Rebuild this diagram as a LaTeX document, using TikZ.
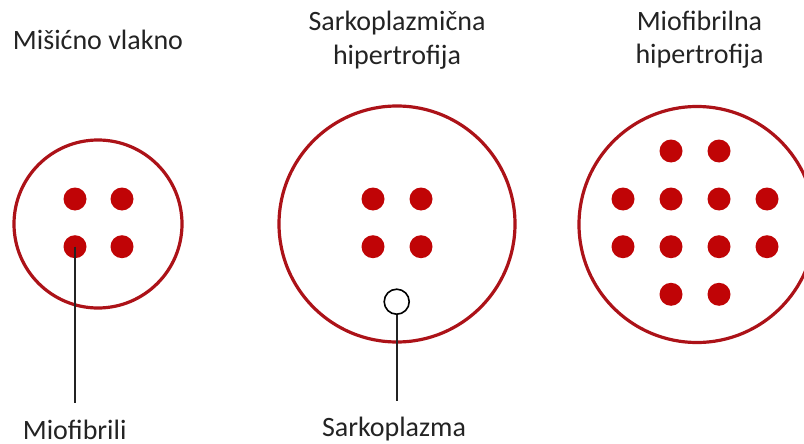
\documentclass[tikz,border=0pt]{standalone}
\usepackage{fontspec}
\setmainfont{Carlito}
\usepackage{xcolor}
\definecolor{fibrered}{RGB}{172, 18, 24}
\definecolor{dotred}{RGB}{192, 4, 6}
\definecolor{inkgray}{RGB}{35, 35, 35}
\usepackage{tikz}
\usetikzlibrary{positioning,calc}

\begin{document}
\begin{tikzpicture}[
  x=1pt, y=-1pt,
  fibre/.style={draw=fibrered, circle, line width=3.2pt, inner sep=0pt, fill=white},
  fibril/.style={fill=dotred, draw=none, circle, inner sep=0pt, minimum size=23pt},
  sarcoplasm/.style={draw=black, fill=white, circle, line width=1.6pt, inner sep=0pt, minimum size=25pt},
  heading/.style={font=\fontsize{28}{33.5}\selectfont, text=inkgray, align=center, anchor=base, inner sep=0pt},
  callout/.style={font=\fontsize{28}{33.5}\selectfont, text=inkgray, anchor=base, inner sep=0pt},
  pointer/.style={draw=inkgray, line width=2.4pt, shorten >=16pt}
]
\useasboundingbox (0,0) rectangle (804,444);

% headings (base = last line)
\node[heading] (hnormal) at (98,50) {Mišićno vlakno};
\node[heading] (hsarco) at (397,64.5) {Sarkoplazmična\\hipertrofija};
\node[heading] (hmyo) at (699.5,64) {Miofibrilna\\hipertrofija};

% muscle fibres
\node[fibre, minimum size=168pt] (normal) at (98,224) {};
\node[fibre, minimum size=236pt] (sarco) at (397,224) {};
\node[fibre, minimum size=236pt] (myo) at (697,224.5) {};

% normal fibre
\node[fibril] (n1) at (75,199) {};   \node[fibril] (n2) at (122,199) {};
\node[fibril] (n3) at (75,246.7) {}; \node[fibril] (n4) at (122,246.7) {};

% sarcoplasmic hypertrophy
\node[fibril] (s1) at (373,199) {};   \node[fibril] (s2) at (421,199) {};
\node[fibril] (s3) at (373,246.7) {}; \node[fibril] (s4) at (421,246.7) {};
\node[sarcoplasm] (plasma) at (396.7,301.7) {};

% myofibrillar hypertrophy
\node[fibril] (m1) at (671,151) {};   \node[fibril] (m2) at (719,151) {};
\node[fibril] (m3) at (623,199) {};   \node[fibril] (m4) at (671,199) {};
\node[fibril] (m5) at (719,199) {};   \node[fibril] (m6) at (767,199) {};
\node[fibril] (m7) at (623,246.7) {}; \node[fibril] (m8) at (671,246.7) {};
\node[fibril] (m9) at (719,246.7) {}; \node[fibril] (m10) at (767,246.7) {};
\node[fibril] (m11) at (671,294.3) {}; \node[fibril] (m12) at (719,294.3) {};

% callouts
\node[callout] (lblfibril) at (74.7,439) {Miofibrili};
\node[callout] (lblplasma) at (394,436.7) {Sarkoplazma};

\draw[pointer] (n3.center) -- (n3.center |- lblfibril.north);
\draw[pointer] (plasma.south) -- (plasma.south |- lblplasma.north);
\end{tikzpicture}
\end{document}
